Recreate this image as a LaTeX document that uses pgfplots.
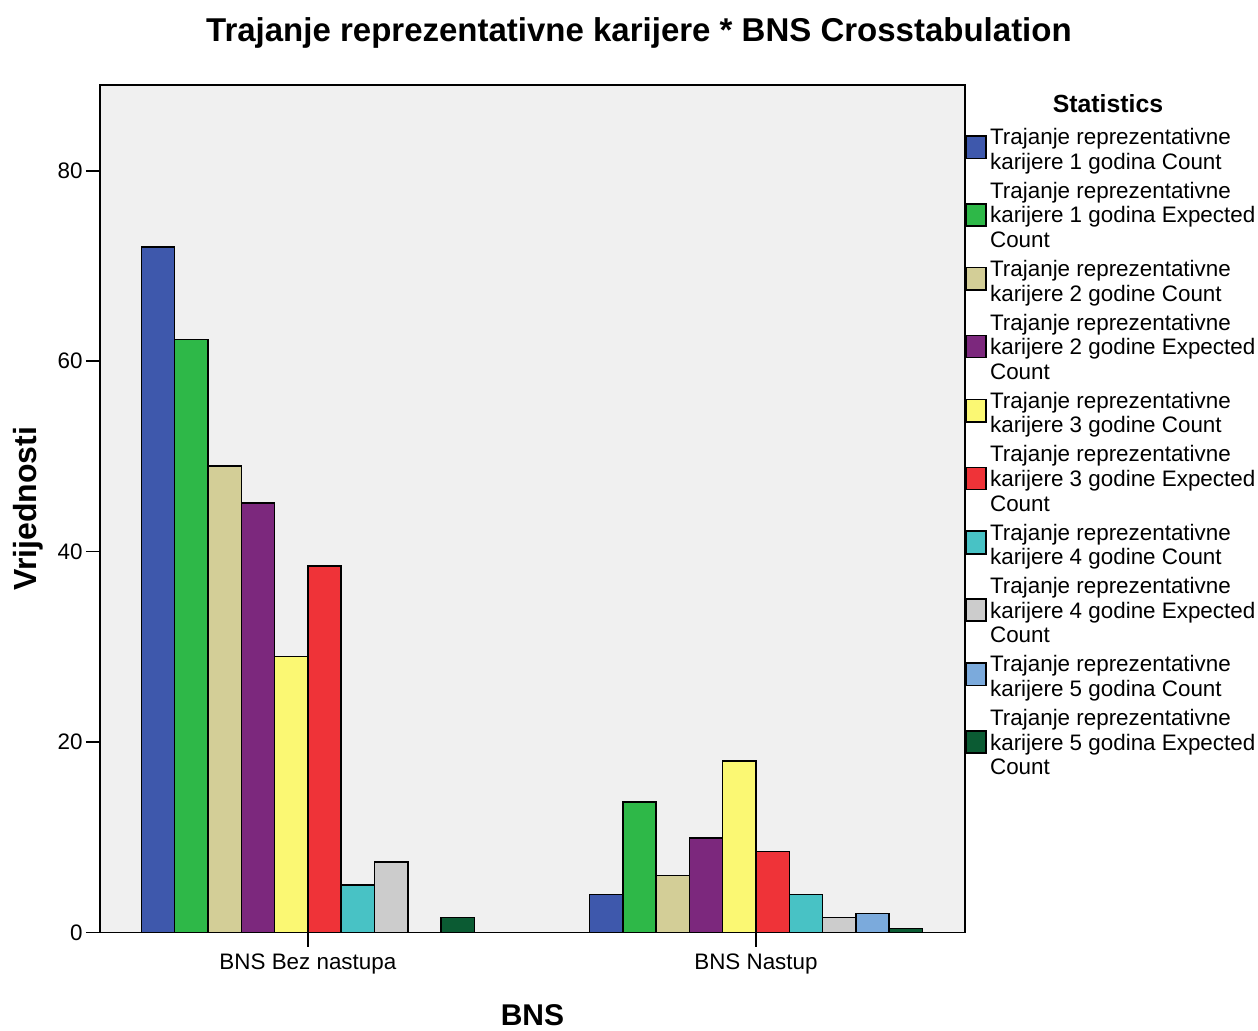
\documentclass[border=0pt]{standalone}
\usepackage{fontspec}
\setmainfont{Liberation Sans}
\usepackage{pgfplots}
\pgfplotsset{compat=1.18}
\definecolor{cA}{HTML}{3E58AC}
\definecolor{cB}{HTML}{2EB848}
\definecolor{cC}{HTML}{D3CE97}
\definecolor{cD}{HTML}{7C287D}
\definecolor{cE}{HTML}{FBF873}
\definecolor{cF}{HTML}{EF3338}
\definecolor{cG}{HTML}{48C2C5}
\definecolor{cH}{HTML}{CCCCCC}
\definecolor{cI}{HTML}{7BAADC}
\definecolor{cJ}{HTML}{0B5B33}
\definecolor{bggray}{HTML}{F0F0F0}
\newcommand{\first}{\rule[-3.69pt]{0pt}{14.5pt}}
\pgfplotsset{
  leg2/.style={legend image code/.code={\path (0pt,0pt) (11.8pt,0pt); \draw[##1,overlay,draw=black,line width=0.75pt] (0pt,-6.9pt) rectangle (10pt,4.4pt);}},
  leg3/.style={legend image code/.code={\path (0pt,0pt) (11.8pt,0pt); \draw[##1,overlay,draw=black,line width=0.75pt] (0pt,-1.5pt) rectangle (10pt,9.5pt);}},
  blank/.style={legend image code/.code={\path (0pt,0pt) (11.8pt,0pt);}},
}
\begin{document}
\begin{tikzpicture}
\useasboundingbox (0,0) rectangle (629pt,515pt);
\node[anchor=base, font=\fontsize{16.5}{18}\selectfont\bfseries] at (319.5pt,494pt) {Trajanje reprezentativne karijere * BNS Crosstabulation};
\node[anchor=base, font=\fontsize{12.4}{14}\selectfont\bfseries] at (554pt,458.5pt) {Statistics};
\begin{axis}[
  at={(50pt,48.75pt)}, anchor=south west,
  scale only axis, width=432.5pt, height=423.75pt,
  xmin=-0.464, xmax=1.4665, ymin=0, ymax=89,
  axis background/.style={fill=bggray},
  axis line style={black, line width=0.8pt},
  ybar, bar width=0.0743,
  xtick={0,1}, xticklabels={BNS Bez nastupa, BNS Nastup},
  ytick={0,20,40,60,80},
  xtick pos=bottom, ytick pos=left,
  tick align=outside, major tick length=7pt,
  tick style={black, line width=0.8pt},
  /pgf/number format/assume math mode=true,
  ticklabel style={font=\fontsize{11.2}{12.3}\selectfont},
  yticklabel style={inner xsep=1.5pt},
  xlabel={BNS}, ylabel={Vrijednosti},
  xlabel style={at={(axis description cs:0.5,0)}, anchor=base, yshift=-46.25pt, font=\fontsize{15}{17}\selectfont\bfseries},
  ylabel style={at={(axis description cs:0,0.5)}, anchor=center, yshift=36pt, font=\fontsize{16}{18}\selectfont\bfseries},
  legend style={at={(1,0.9552)}, anchor=north west, draw=none, fill=none,
    inner sep=0pt, outer sep=0pt, row sep=0pt,
    font=\fontsize{11.2}{12.3}\selectfont,
    nodes={inner sep=0pt, text depth=, text height=},
    cells={anchor=base west},
    /tikz/every even column/.append style={column sep=2.5pt}},
  every axis plot/.append style={draw=black, line width=0.75pt},
]
\addplot[fill=cA, bar shift=-0.33435, leg2] coordinates {(0,72) (1,4)};
\addlegendentry{\first Trajanje reprezentativne}
\addlegendimage{blank}\addlegendentry{\strut karijere 1 godina Count}

\addlegendimage{blank}\addlegendentry{\first Trajanje reprezentativne}
\addplot[fill=cB, bar shift=-0.26005, leg3] coordinates {(0,62.3) (1,13.7)};
\addlegendentry{\strut karijere 1 godina Expected}
\addlegendimage{blank}\addlegendentry{\strut Count}

\addplot[fill=cC, bar shift=-0.18575, leg2] coordinates {(0,49) (1,6)};
\addlegendentry{\first Trajanje reprezentativne}
\addlegendimage{blank}\addlegendentry{\strut karijere 2 godine Count}

\addlegendimage{blank}\addlegendentry{\first Trajanje reprezentativne}
\addplot[fill=cD, bar shift=-0.11145, leg3] coordinates {(0,45.1) (1,9.9)};
\addlegendentry{\strut karijere 2 godine Expected}
\addlegendimage{blank}\addlegendentry{\strut Count}

\addplot[fill=cE, bar shift=-0.03715, leg2] coordinates {(0,29) (1,18)};
\addlegendentry{\first Trajanje reprezentativne}
\addlegendimage{blank}\addlegendentry{\strut karijere 3 godine Count}

\addlegendimage{blank}\addlegendentry{\first Trajanje reprezentativne}
\addplot[fill=cF, bar shift=0.03715, leg3] coordinates {(0,38.5) (1,8.5)};
\addlegendentry{\strut karijere 3 godine Expected}
\addlegendimage{blank}\addlegendentry{\strut Count}

\addplot[fill=cG, bar shift=0.11145, leg2] coordinates {(0,5) (1,4)};
\addlegendentry{\first Trajanje reprezentativne}
\addlegendimage{blank}\addlegendentry{\strut karijere 4 godine Count}

\addlegendimage{blank}\addlegendentry{\first Trajanje reprezentativne}
\addplot[fill=cH, bar shift=0.18575, leg3] coordinates {(0,7.4) (1,1.6)};
\addlegendentry{\strut karijere 4 godine Expected}
\addlegendimage{blank}\addlegendentry{\strut Count}

\addplot[fill=cI, bar shift=0.26005, leg2] coordinates {(1,2)};
\addlegendentry{\first Trajanje reprezentativne}
\addlegendimage{blank}\addlegendentry{\strut karijere 5 godina Count}

\addlegendimage{blank}\addlegendentry{\first Trajanje reprezentativne}
\addplot[fill=cJ, bar shift=0.33435, leg3] coordinates {(0,1.6) (1,0.4)};
\addlegendentry{\strut karijere 5 godina Expected}
\addlegendimage{blank}\addlegendentry{\strut Count}
\end{axis}
\end{tikzpicture}
\end{document}
